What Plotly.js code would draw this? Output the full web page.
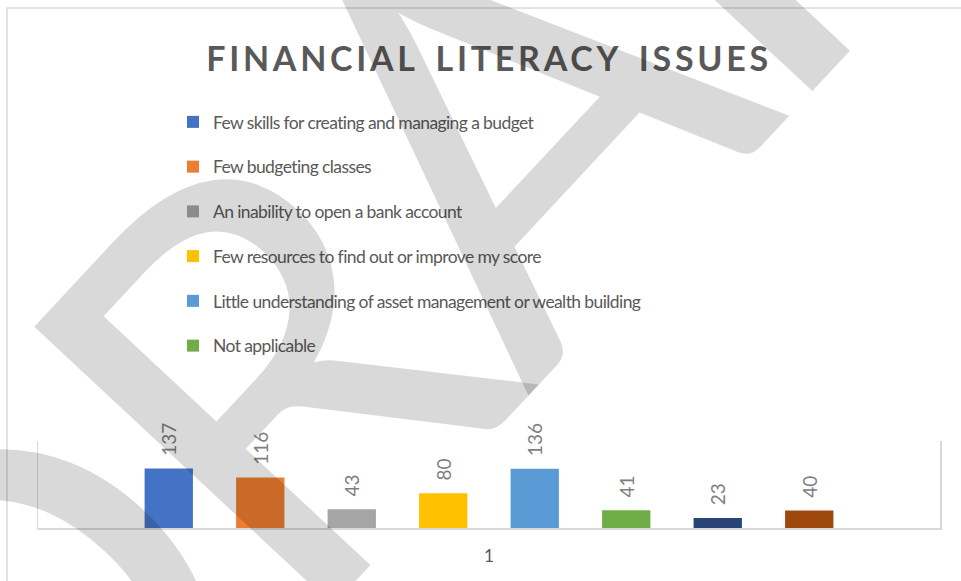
<!DOCTYPE html>
<html><head><meta charset="utf-8">
<script src="https://cdn.plot.ly/plotly-3.0.1.min.js"></script>
<style>html,body{margin:0;padding:0;background:#fff;} #chart{width:961px;height:581px;}</style>
</head><body><div id="chart"></div>
<script>
const categories = ['1'];
const seriesNames = [
  'Few skills for creating and managing a budget',
  'Few budgeting classes',
  'An inability to open a bank account',
  'Few resources to find out or improve my score',
  'Little understanding of asset management or wealth building',
  'Not applicable',
  'Series 7',
  'Series 8'
];
const values = [137, 116, 43, 80, 136, 41, 23, 40];
const colors = ['#4472C4','#ED7D31','#A5A5A5','#FFC000','#5B9BD5','#70AD47','#264478','#9E480E'];
const inLegend = [true, true, true, true, true, true, false, false];
const titleText = 'FINANCIAL LITERACY ISSUES';
const watermarkText = 'DRAFT';

const L = 38, R = 21, T = 441, B = 53, W = 961, H = 581;
const pw = W - L - R, ph = H - T - B;
const px = x => (x - L) / pw;
const py = y => (H - B - y) / ph;

const traces = seriesNames.map((n, i) => ({
  type: 'bar',
  name: n,
  x: categories,
  y: [values[i]],
  marker: {color: colors[i]},
  text: ['\u00A0\u00A0' + values[i]],
  textposition: 'outside',
  textangle: -90,
  constraintext: 'none',
  cliponaxis: false,
  outsidetextfont: {family: 'Lato, sans-serif', size: 19, color: '#7F7F7F'},
  showlegend: inLegend[i],
  legendgroup: 'g' + i,
  hoverinfo: 'skip'
}));

const layout = {
  width: W, height: H,
  margin: {l: L, r: R, t: T, b: B, pad: 0},
  paper_bgcolor: '#ffffff', plot_bgcolor: '#ffffff',
  barmode: 'group', bargap: 0.1885, bargroupgap: 0.472,
  font: {family: 'Lato, sans-serif', color: '#595959'},
  title: {
    text: titleText,
    font: {family: 'Lato, sans-serif', size: 34, weight: 700, color: '#595959'},
    xref: 'paper', x: 0.5, xanchor: 'center',
    yref: 'container', y: 1 - 59 / H, yanchor: 'middle'
  },
  xaxis: {
    type: 'category', showgrid: false, zeroline: false,
    showline: true, linecolor: '#D9D9D9', linewidth: 1.5,
    ticks: 'outside', ticklen: 12, tickcolor: 'rgba(0,0,0,0)',
    tickfont: {family: 'Lato, sans-serif', size: 17, color: '#595959'}
  },
  yaxis: {
    range: [0, 200], showgrid: false, zeroline: false, showticklabels: false,
    showline: true, mirror: true, linecolor: '#D9D9D9', linewidth: 1.5, ticks: ''
  },
  legend: {
    xref: 'paper', x: px(173), xanchor: 'left',
    yref: 'container', y: 1 - 104 / H, yanchor: 'top',
    font: {family: 'Lato, sans-serif', size: 17.5, color: '#595959'},
    tracegroupgap: 19, bgcolor: 'rgba(0,0,0,0)', traceorder: 'grouped'
  },
  shapes: [{
    type: 'rect', xref: 'paper', yref: 'paper', layer: 'below',
    x0: px(7), x1: px(990), y0: py(610), y1: py(8),
    line: {color: '#D9D9D9', width: 1.5}, fillcolor: 'rgba(0,0,0,0)'
  }],
  annotations: [{
    text: watermarkText, xref: 'paper', yref: 'paper',
    x: px(445), y: py(161), xanchor: 'center', yanchor: 'middle',
    showarrow: false, textangle: -47,
    font: {family: 'Lato, sans-serif', size: 570, weight: 400, color: 'rgba(0,0,0,0.15)'}
  }]
};

Plotly.newPlot('chart', traces, layout, {staticPlot: true, displayModeBar: false}).then(() => {
  document.querySelectorAll('.gtitle').forEach(e => { e.style.letterSpacing = '3.7px'; e.style.wordSpacing = '6px'; });
  document.querySelectorAll('.legendtext').forEach(e => { e.style.letterSpacing = '-0.6px'; });
  document.querySelectorAll('.annotation-text').forEach(e => { e.style.letterSpacing = '-20px'; });
});
</script>
</body></html>
